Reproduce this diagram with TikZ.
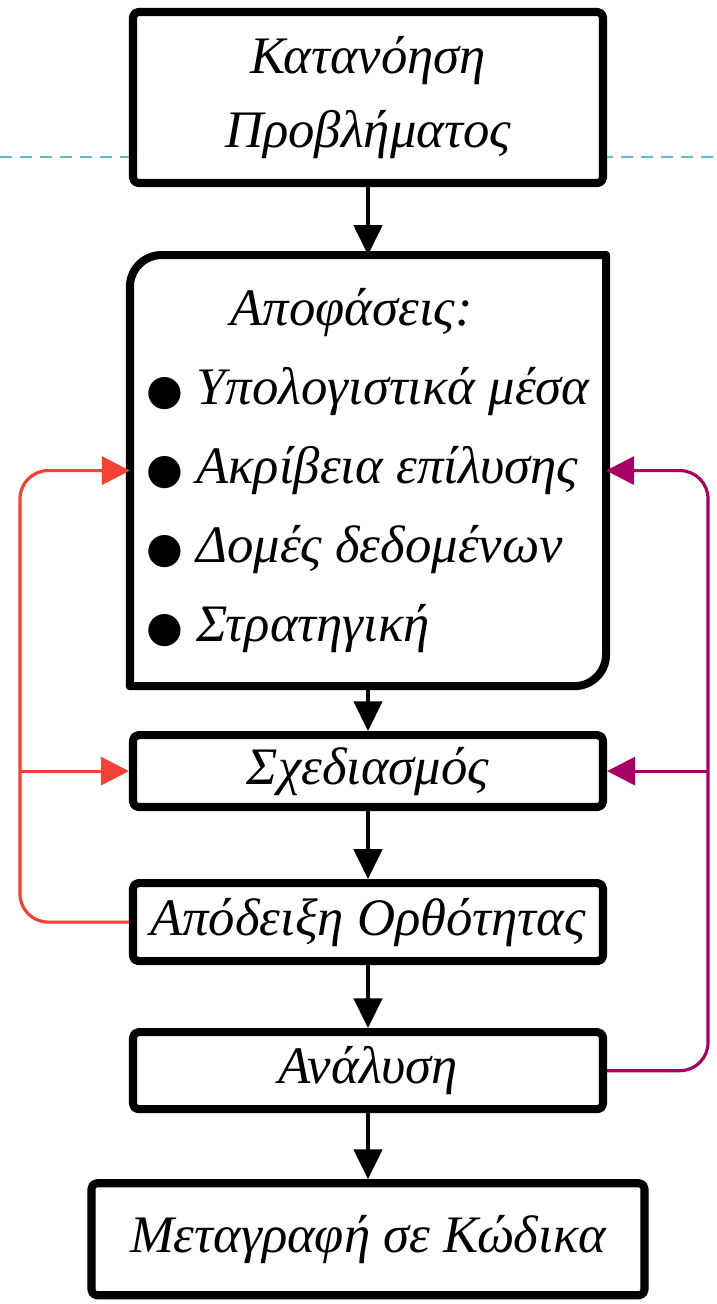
\documentclass[tikz,border=0pt]{standalone}
\usepackage{fontspec}
\setmainfont{Liberation Serif}
\newfontfamily\symfont{DejaVu Sans}
\usetikzlibrary{arrows.meta, positioning}

\definecolor{guideblue}{RGB}{102,184,206}
\definecolor{loopred}{RGB}{245,64,54}
\definecolor{looppurple}{RGB}{166,0,100}

\newcommand{\bul}{{\symfont\fontsize{12}{12}\selectfont ●}\ }

\begin{document}
\begin{tikzpicture}[
    box/.style={draw, rectangle, rounded corners=1.5pt, minimum width=4.7cm, align=center, fill=white,
                line width=2.3pt, line cap=round, line join=round, font=\itshape\fontsize{15}{21}\selectfont},
    arr/.style={-{Triangle[width=8pt, length=8.5pt]}, line width=1.2pt},
    loop/.style={-{Triangle[width=8pt, length=8pt]}, line width=0.9pt, rounded corners=8pt},
    guide/.style={guideblue, line width=0.6pt, dash pattern=on 3.4pt off 2.3pt}
]
    \useasboundingbox (0,0) rectangle (7.17,-13.04);

    % guide line behind the first box
    \draw[guide] (0,-1.57) -- (7.17,-1.57);

    % Boxes
    \node[box, minimum height=1.71cm] (problem) at (3.68,-0.975) {Κατανόηση\\Προβλήματος};

    \node[box, draw=none, minimum width=4.68cm, minimum height=4.23cm, below=0.68cm of problem,
          align=left, font=\itshape\fontsize{15}{22.5}\selectfont] (decide) {
        \hspace*{1.6em}Αποφάσεις:\\
        \bul Υπολογιστικά μέσα\\
        \bul Ακρίβεια επίλυσης\\
        \bul Δομές δεδομένων\\
        \bul Στρατηγική
    };
    \draw[line width=2.3pt, line cap=round, rounded corners=9pt] (decide.south west) |- (decide.north east);
    \draw[line width=2.3pt, line cap=round, rounded corners=9pt] (decide.north east) |- (decide.south west);

    \node[box, minimum height=0.71cm, below=0.45cm of decide] (design) {Σχεδιασμός};
    \node[box, minimum height=0.78cm, below=0.68cm of design] (proof) {Απόδειξη Ορθότητας};
    \node[box, minimum height=0.77cm, below=0.63cm of proof] (analysis) {Ανάλυση};
    \node[box, minimum width=5.53cm, minimum height=1.12cm, below=0.66cm of analysis] (coding) {Μεταγραφή σε Κώδικα};

    % Main flow
    \draw[arr] (problem.south) -- (decide.north);
    \draw[arr] (decide.south) -- (design.north);
    \draw[arr] (design.south) -- (proof.north);
    \draw[arr] (proof.south) -- (analysis.north);
    \draw[arr] (analysis.south) -- (coding.north);

    % Feedback rails
    \coordinate (lrail) at (0.20,0);
    \coordinate (rrail) at (7.08,0);

    \draw[loop, loopred] (proof.west) -| (lrail |- decide.west) -- (decide.west);
    \draw[loop, loopred] (lrail |- design.west) -- (design.west);

    \draw[loop, looppurple] (analysis.east) -| (rrail |- decide.east) -- (decide.east);
    \draw[loop, looppurple] (rrail |- design.east) -- (design.east);
\end{tikzpicture}
\end{document}
